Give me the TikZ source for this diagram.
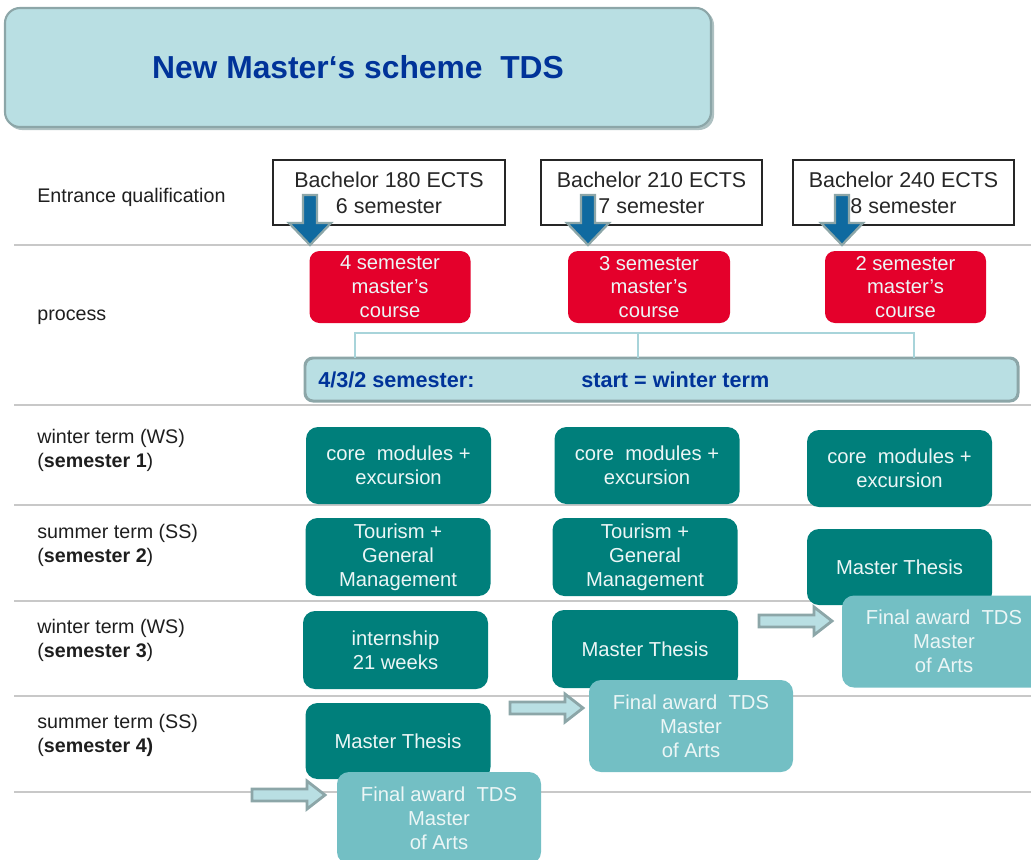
\documentclass[tikz,border=0pt]{standalone}
\usepackage{fontspec}
\setmainfont{Liberation Sans}
\usetikzlibrary{positioning,calc}

\definecolor{paleteal}{RGB}{185,223,227}
\definecolor{framegray}{RGB}{140,166,168}
\definecolor{titleblue}{RGB}{0,51,153}
\definecolor{coursered}{RGB}{228,0,43}
\definecolor{termteal}{RGB}{0,127,123}
\definecolor{awardteal}{RGB}{115,191,196}
\definecolor{arrowblue}{RGB}{15,106,160}
\definecolor{gridgray}{RGB}{200,200,200}
\definecolor{linkblue}{RGB}{168,212,218}
\definecolor{boxtext}{RGB}{236,246,246}
\definecolor{labeltext}{RGB}{30,30,30}

% one pixel of the grid
\newcommand{\px}{0.02cm}

\begin{document}
\begin{tikzpicture}[x=0.02cm,y=-0.02cm,
    rowline/.style={draw=gridgray,line width=1.1pt},
    rowlabel/.style={anchor=west,align=left,inner sep=0pt,text=labeltext,
      font=\fontsize{11.2}{13.6}\selectfont},
    bachelor/.style={draw=black!85,line width=0.8pt,fill=white,align=center,
      text=black!85,inner sep=0pt,minimum width=221*\px,minimum height=65*\px,
      font=\fontsize{12.2}{14.7}\selectfont},
    coursebox/.style={fill=coursered,rounded corners=0.2cm,align=center,text=boxtext,
      inner sep=0pt,minimum width=161*\px,minimum height=72*\px,
      font=\fontsize{11.5}{13.6}\selectfont},
    termbox/.style={fill=termteal,rounded corners=0.24cm,align=center,text=boxtext,
      inner sep=0pt,minimum width=185*\px,minimum height=77*\px,
      font=\fontsize{11.5}{13.6}\selectfont},
    awardbox/.style={fill=awardteal,rounded corners=0.24cm,align=center,text=boxtext,
      inner sep=0pt,minimum width=204*\px,minimum height=92*\px,
      font=\fontsize{11.5}{13.6}\selectfont},
    downblock/.style={fill=arrowblue,draw=framegray,line width=1.3pt,line join=miter},
    rightblock/.style={fill=paleteal,draw=framegray,line width=1.6pt,line join=miter},
    link/.style={draw=linkblue,line width=0.7pt}]

  \clip (0,0) rectangle (1031,859);
  \useasboundingbox (0,0) rectangle (1031,859);

  % row separators
  \foreach \y in {245,405,505,601,696,792}
    \draw[rowline] (14,\y) -- (1031,\y);

  % title, with a soft shade below
  \fill[framegray!70,rounded corners=0.3cm] (7,10) rectangle (714,130);
  \node[fill=paleteal,draw=framegray,line width=1.2pt,rounded corners=0.3cm,
    minimum width=706*\px,minimum height=119*\px,text=titleblue,
    font=\fontsize{18.1}{22}\selectfont\bfseries] (title) at (358,67.5)
    {New Master‘s scheme\ \ TDS};

  % row labels
  \node[rowlabel] (lentry) at (37,197) {Entrance qualification};
  \node[rowlabel] (lproc) at (37,317) {process};
  \node[rowlabel] (lsem1) at (37,450) {winter term (WS)\\(\textbf{semester 1})};
  \node[rowlabel] (lsem2) at (37,545) {summer term (SS)\\(\textbf{semester 2})};
  \node[rowlabel] (lsem3) at (37,640) {winter term (WS)\\(\textbf{semester 3})};
  \node[rowlabel] (lsem4) at (37,735) {summer term (SS)\\(\textbf{semester 4)}};

  % entrance qualification
  \node[bachelor,minimum width=232*\px] (ba180) at (389,192.5) {Bachelor 180 ECTS\\6 semester};
  \node[bachelor] (ba210) at (651.5,192.5) {Bachelor 210 ECTS\\7 semester};
  \node[bachelor] (ba240) at (903.5,192.5) {Bachelor 240 ECTS\\8 semester};

  % block arrows into the courses
  \foreach \name/\x in {a1/310,a2/588,a3/842}{
    \coordinate (\name) at (\x,245);
    \draw[downblock] (\name) -- ++(-21,-22) -- ++(14,0) -- ++(0,-28) -- ++(14,0)
      -- ++(0,28) -- ++(14,0) -- cycle;
  }

  % master's courses
  \node[coursebox] (c4) at (390,287) {4 semester\\master’s\\course};
  \node[coursebox,minimum width=162*\px] (c3) at (649,287) {3 semester\\master’s\\course};
  \node[coursebox] (c2) at (905.5,287) {2 semester\\master’s\\course};

  % start bar
  \node[fill=paleteal,draw=framegray,line width=1.7pt,rounded corners=0.16cm,
    minimum width=713*\px,minimum height=43*\px,inner sep=0pt] (start) at (661.5,379.5) {};
  \node[anchor=west,inner sep=0pt,text=titleblue,font=\fontsize{12.3}{14}\selectfont\bfseries]
    (startA) at (318,380) {4/3/2 semester:};
  \node[anchor=west,inner sep=0pt,text=titleblue,font=\fontsize{12.3}{14}\selectfont\bfseries]
    (startB) at (581,380) {start = winter term};
  \coordinate (j1) at (355,358);
  \coordinate (j2) at (638,358);
  \coordinate (j3) at (914,358);
  \draw[link] (j1) -- ++(0,-25) -| (j3);
  \draw[link] (j2) -- ++(0,-25);

  % 4 semester course
  \node[termbox] (core4) at (398.5,465.5) {core\ \ modules +\\excursion};
  \node[termbox,minimum height=78*\px] (tgm4) at (398,557) {Tourism +\\General\\Management};
  \node[termbox,minimum height=78*\px] (intern) at (395.5,650) {internship\\21 weeks};
  \node[termbox,minimum height=76*\px] (thesis4) at (398,741) {Master Thesis};

  % 3 semester course
  \node[termbox] (core3) at (647,465.5) {core\ \ modules +\\excursion};
  \node[termbox,minimum height=78*\px] (tgm3) at (645,557) {Tourism +\\General\\Management};
  \node[termbox,minimum width=186*\px,minimum height=78*\px] (thesis3) at (645,649) {Master Thesis};

  % 2 semester course
  \node[termbox] (core2) at (899.5,468.5) {core\ \ modules +\\excursion};
  \node[termbox,minimum height=76*\px] (thesis2) at (899.5,567) {Master Thesis};

  % awards
  \node[awardbox] (award4) at (439,818) {Final award\ \ TDS\\Master\\of Arts};
  \node[awardbox] (award3) at (691,726) {Final award\ \ TDS\\Master\\of Arts};
  \node[awardbox] (award2) at (944,641.5) {Final award\ \ TDS\\Master\\of Arts};

  % hollow arrows to the awards
  \foreach \name/\x/\y in {h1/325/795,h2/583/708,h3/832/621}{
    \coordinate (\name) at (\x,\y);
    \draw[rightblock] (\name) -- ++(-18,-14) -- ++(0,8) -- ++(-55,0) -- ++(0,12)
      -- ++(55,0) -- ++(0,8) -- cycle;
  }
\end{tikzpicture}
\end{document}
